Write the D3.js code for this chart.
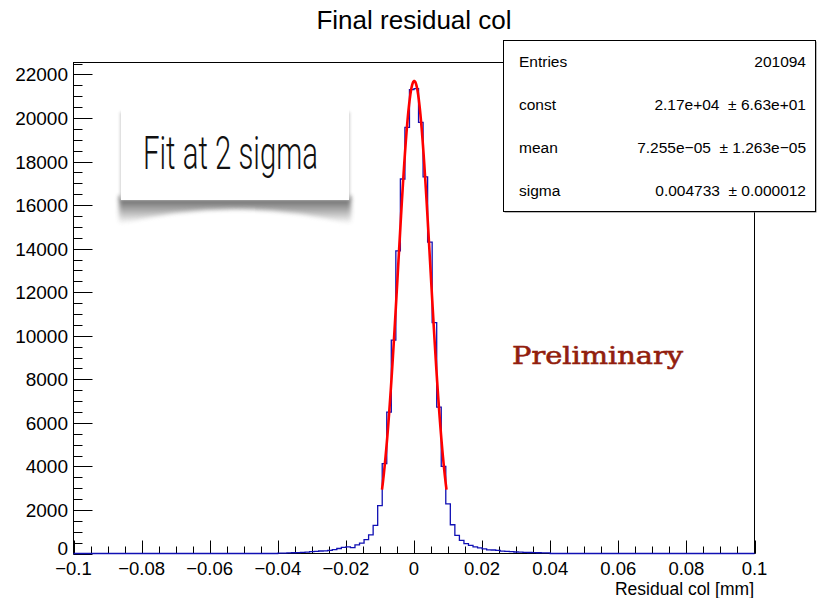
<!DOCTYPE html>
<html>
<head>
<meta charset="utf-8">
<script src="https://cdn.jsdelivr.net/npm/d3@7"></script>
<style>
  html, body { margin: 0; padding: 0; background: #ffffff; }
  svg { display: block; font-family: "Liberation Sans", Arial, Helvetica, sans-serif; }
</style>
</head>
<body>
<svg id="chart" width="818" height="598"></svg>
<script>
// Histogram: residual in column direction, 150 bins over [-0.1, 0.1] mm,
// only the central 60 bins ([-0.04, 0.04]) are populated.
const histRange = [-0.1, 0.1];
const nBinsTotal = 150;
const filledRange = [-0.04, 0.04];
const counts = [
  15, 20, 25, 35, 40, 50, 60, 85, 100, 115,
  120, 140, 180, 230, 280, 300, 270, 400, 480, 640,
  860, 1290, 2200, 4130, 6490, 9800, 13900, 17200, 19570, 21300,
  21350, 19800, 17300, 14300, 10600, 6720, 4000, 2280, 1320, 830,
  600, 450, 370, 300, 260, 210, 170, 160, 140, 110,
  100, 90, 70, 60, 55, 45, 40, 35, 30, 25
];

// Gaussian fit result (fit range: mean +/- 2 sigma)
const fitConst = 2.17e4;
const fitMean = 7.255e-5;
const fitSigma = 0.004733;
const fitNSigma = 2;

// Statistics box rows
const statLabels = ["Entries", "const", "mean", "sigma"];
const statValues = ["201094", "2.17e+04  \u00b1 6.63e+01", "7.255e\u221205  \u00b1 1.263e\u221205", "0.004733  \u00b1 0.000012"];

// Axis ticks
const xMajorTicks = [-0.1, -0.08, -0.06, -0.04, -0.02, 0, 0.02, 0.04, 0.06, 0.08, 0.1];
const xTickLabels = ["\u22120.1", "\u22120.08", "\u22120.06", "\u22120.04", "\u22120.02", "0", "0.02", "0.04", "0.06", "0.08", "0.1"];
const yMajorTicks = [0, 2000, 4000, 6000, 8000, 10000, 12000, 14000, 16000, 18000, 20000, 22000];
const yMax = 22550;

const titleText = "Final residual col";
const xTitle = "Residual col [mm]";
const noteText = "Fit at 2 sigma";
const prelimText = "Preliminary";

// ---------------------------------------------------------------------------
const svg = d3.select("#chart");
const frame = { left: 73.5, right: 754.5, top: 62.5, bottom: 553.5 };

const x = d3.scaleLinear().domain(histRange).range([frame.left, frame.right]);
const y = d3.scaleLinear().domain([0, yMax]).range([frame.bottom, frame.top]);

// frame
svg.append("rect")
  .attr("x", frame.left).attr("y", frame.top)
  .attr("width", frame.right - frame.left).attr("height", frame.bottom - frame.top)
  .attr("fill", "none").attr("stroke", "#000").attr("stroke-width", 1);

// x axis ticks (drawn inside the frame)
const xMinor = d3.range(0, 41).map(i => histRange[0] + i * 0.005);
const xg = svg.append("g");
xg.selectAll("line.minor").data(xMinor).join("line")
  .attr("x1", d => Math.round(x(d)) + 0.5).attr("x2", d => Math.round(x(d)) + 0.5)
  .attr("y1", frame.bottom).attr("y2", frame.bottom - 7)
  .attr("stroke", "#000").attr("stroke-width", 1);
xg.selectAll("line.major").data(xMajorTicks).join("line")
  .attr("x1", d => Math.round(x(d)) + 0.5).attr("x2", d => Math.round(x(d)) + 0.5)
  .attr("y1", frame.bottom).attr("y2", frame.bottom - 13)
  .attr("stroke", "#000").attr("stroke-width", 1);
xg.selectAll("text").data(xMajorTicks).join("text")
  .attr("x", d => x(d)).attr("y", 575)
  .attr("text-anchor", "middle")
  .attr("font-size", 18.5).attr("fill", "#000")
  .text((d, i) => xTickLabels[i]);

// y axis ticks
const yMinor = d3.range(0, 46).map(i => i * 500).filter(v => v <= yMax);
const yg = svg.append("g");
yg.selectAll("line.minor").data(yMinor).join("line")
  .attr("x1", frame.left).attr("x2", frame.left + 9)
  .attr("y1", d => Math.round(y(d)) + 0.5).attr("y2", d => Math.round(y(d)) + 0.5)
  .attr("stroke", "#000").attr("stroke-width", 1);
yg.selectAll("line.major").data(yMajorTicks).join("line")
  .attr("x1", frame.left).attr("x2", frame.left + 19)
  .attr("y1", d => Math.round(y(d)) + 0.5).attr("y2", d => Math.round(y(d)) + 0.5)
  .attr("stroke", "#000").attr("stroke-width", 1);
yg.selectAll("text").data(yMajorTicks).join("text")
  .attr("x", 68).attr("y", d => y(d) + (d === 0 ? 1.5 : 7))
  .attr("text-anchor", "end")
  .attr("font-size", 19).attr("fill", "#000")
  .text(d => String(d));

// histogram as a step outline
const binW = (histRange[1] - histRange[0]) / nBinsTotal;
const firstFilled = Math.round((filledRange[0] - histRange[0]) / binW);
const allCounts = d3.range(nBinsTotal).map(i => {
  const j = i - firstFilled;
  return (j >= 0 && j < counts.length) ? counts[j] : 0;
});
const stepPts = [];
allCounts.forEach((c, i) => {
  stepPts.push([histRange[0] + i * binW, c]);
  stepPts.push([histRange[0] + (i + 1) * binW, c]);
});
const histLine = d3.line().x(d => x(d[0])).y(d => y(d[1]));
svg.append("path")
  .attr("d", histLine(stepPts))
  .attr("fill", "none").attr("stroke", "#1010b4").attr("stroke-width", 1.3);

// fitted gaussian
const fitLo = fitMean - fitNSigma * fitSigma;
const fitHi = fitMean + fitNSigma * fitSigma;
const fitPts = d3.range(0, 201).map(i => {
  const xv = fitLo + (fitHi - fitLo) * i / 200;
  return [xv, fitConst * Math.exp(-0.5 * Math.pow((xv - fitMean) / fitSigma, 2))];
});
svg.append("path")
  .attr("d", d3.line().x(d => x(d[0])).y(d => y(d[1])).curve(d3.curveLinear)(fitPts))
  .attr("fill", "none").attr("stroke", "#ff0000").attr("stroke-width", 2.6)
  .attr("stroke-linejoin", "round");

// title
svg.append("text")
  .attr("x", 414).attr("y", 29)
  .attr("text-anchor", "middle").attr("font-size", 26).attr("fill", "#000")
  .text(titleText);

// x axis title
svg.append("text")
  .attr("x", 754).attr("y", 595)
  .attr("text-anchor", "end").attr("font-size", 17.5).attr("fill", "#000")
  .text(xTitle);

// statistics box
const sb = { x: 503.5, y: 40.5, w: 312, h: 171 };
svg.append("rect")
  .attr("x", sb.x + 1).attr("y", sb.y + 1).attr("width", sb.w).attr("height", sb.h)
  .attr("fill", "#777");
svg.append("rect")
  .attr("x", sb.x).attr("y", sb.y).attr("width", sb.w).attr("height", sb.h)
  .attr("fill", "#fff").attr("stroke", "#000").attr("stroke-width", 1);
const rowY = [61, 104, 147, 190];
svg.append("g").selectAll("text").data(statLabels).join("text")
  .attr("x", 519).attr("y", (d, i) => rowY[i] + 5.5)
  .attr("font-size", 15.5).attr("fill", "#000")
  .text(d => d);
svg.append("g").selectAll("text").data(statValues).join("text")
  .attr("x", 806).attr("y", (d, i) => rowY[i] + 5.5)
  .attr("text-anchor", "end").attr("font-size", 15.5).attr("fill", "#000")
  .style("white-space", "pre")
  .text(d => d);

// note box with a lifted-corner shadow
const defs = svg.append("defs");
defs.append("filter").attr("id", "soft").attr("x", "-20%").attr("y", "-50%").attr("width", "140%").attr("height", "200%")
  .append("feGaussianBlur").attr("stdDeviation", 2.2);
defs.append("filter").attr("id", "edge").attr("x", "-10%").attr("y", "-10%").attr("width", "120%").attr("height", "120%")
  .append("feGaussianBlur").attr("stdDeviation", 1.5);
const grad = defs.append("linearGradient").attr("id", "shadeGrad")
  .attr("x1", 0).attr("y1", 0).attr("x2", 0).attr("y2", 1);
grad.append("stop").attr("offset", "0%").attr("stop-color", "#3a3a3a");
grad.append("stop").attr("offset", "100%").attr("stop-color", "#ffffff");

const nb = { x: 121, y: 109, w: 228, h: 91 };
svg.append("path")
  .attr("d", `M${nb.x - 2},${nb.y + nb.h - 4} L${nb.x + nb.w + 2},${nb.y + nb.h - 4} L${nb.x + nb.w + 2},${nb.y + nb.h + 24} Q${nb.x + nb.w / 2},${nb.y + nb.h - 6} ${nb.x - 2},${nb.y + nb.h + 24} Z`)
  .attr("fill", "url(#shadeGrad)").attr("filter", "url(#soft)").attr("opacity", 0.85);
svg.append("rect")
  .attr("x", nb.x - 1).attr("y", nb.y + 3).attr("width", nb.w + 2).attr("height", nb.h - 3)
  .attr("fill", "#d0d0d0").attr("filter", "url(#edge)");
svg.append("rect")
  .attr("x", nb.x).attr("y", nb.y).attr("width", nb.w).attr("height", nb.h)
  .attr("fill", "#fff");
svg.append("text")
  .attr("x", 143).attr("y", 169)
  .attr("font-family", "Roboto, 'Liberation Sans Narrow', sans-serif")
  .attr("font-weight", 300)
  .attr("font-size", 46).attr("fill", "#111")
  .attr("textLength", 175).attr("lengthAdjust", "spacingAndGlyphs")
  .text(noteText);

// preliminary label
svg.append("text")
  .attr("x", 512).attr("y", 364)
  .attr("font-family", "'DejaVu Serif', serif")
  .attr("font-size", 24).attr("fill", "#921e0e")
  .attr("stroke", "#921e0e").attr("stroke-width", 0.6)
  .attr("textLength", 171).attr("lengthAdjust", "spacingAndGlyphs")
  .text(prelimText);
</script>
</body>
</html>
